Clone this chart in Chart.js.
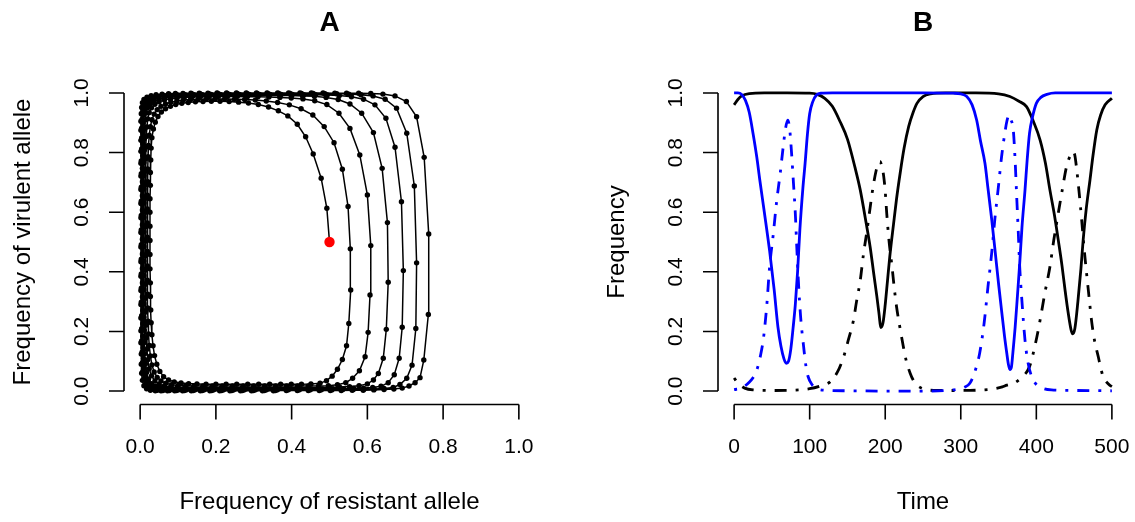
<!DOCTYPE html>
<html lang="en">
<head>
<meta charset="UTF-8">
<title>Resistant and virulent allele cycles</title>
<script src="https://cdn.jsdelivr.net/npm/chart.js@4.4.1/dist/chart.umd.min.js"></script>
<style>
  body { margin: 0; background: #fff; }
  .wrap { position: relative; width: 1135px; height: 522px; }
  canvas { position: absolute; top: 0; }
  #phase { left: 0; }
  #series { left: 567px; }
</style>
</head>
<body>
<div class="wrap">
  <canvas id="phase" width="567" height="522"></canvas>
  <canvas id="series" width="568" height="522"></canvas>
</div>
<script>
// ---- panel A: trajectory (resistant freq, virulent freq), one turn per array ----
const startPoint = [0.5, 0.5];
const turn0 = [[0.500,0.500],[0.493,0.613],[0.478,0.714],[0.457,0.795],[0.437,0.853],[0.415,0.895],[0.390,0.923],[0.365,0.940],[0.339,0.953],[0.312,0.961],[0.286,0.966],[0.260,0.969],[0.235,0.971],[0.211,0.972],[0.188,0.972],[0.166,0.971],[0.146,0.970],[0.127,0.968],[0.110,0.965],[0.094,0.961],[0.080,0.955],[0.067,0.947],[0.056,0.936],[0.047,0.921],[0.040,0.902],[0.035,0.879],[0.031,0.850],[0.029,0.815],[0.028,0.775],[0.027,0.733],[0.027,0.690],[0.026,0.645],[0.026,0.600],[0.026,0.553],[0.026,0.505],[0.026,0.458],[0.026,0.410],[0.027,0.363],[0.027,0.317],[0.028,0.272],[0.029,0.229],[0.031,0.189],[0.034,0.152],[0.038,0.119],[0.044,0.090],[0.052,0.066],[0.062,0.048],[0.075,0.037],[0.090,0.031],[0.108,0.027],[0.128,0.025],[0.150,0.024],[0.174,0.023],[0.200,0.023],[0.227,0.023],[0.255,0.023],[0.284,0.023],[0.313,0.023],[0.342,0.023],[0.371,0.023],[0.399,0.023],[0.426,0.023],[0.451,0.024]];
const turn1 = [[0.475,0.026],[0.492,0.035],[0.507,0.050],[0.521,0.073],[0.534,0.106],[0.545,0.152],[0.551,0.227],[0.556,0.339],[0.555,0.477],[0.549,0.619],[0.534,0.744],[0.512,0.833],[0.486,0.887],[0.456,0.926],[0.425,0.947],[0.394,0.960],[0.363,0.968],[0.333,0.973],[0.304,0.976],[0.276,0.978],[0.249,0.979],[0.223,0.980],[0.198,0.980],[0.175,0.980],[0.153,0.979],[0.133,0.978],[0.114,0.976],[0.097,0.973],[0.081,0.969],[0.067,0.963],[0.055,0.955],[0.045,0.944],[0.037,0.929],[0.031,0.910],[0.027,0.887],[0.024,0.858],[0.022,0.824],[0.021,0.786],[0.020,0.745],[0.020,0.702],[0.019,0.657],[0.019,0.611],[0.019,0.564],[0.019,0.516],[0.019,0.468],[0.019,0.420],[0.019,0.372],[0.020,0.325],[0.020,0.279],[0.021,0.234],[0.022,0.192],[0.024,0.153],[0.027,0.118],[0.031,0.088],[0.037,0.064],[0.045,0.046],[0.055,0.034],[0.068,0.026],[0.083,0.021],[0.100,0.019],[0.120,0.018],[0.142,0.017],[0.166,0.017],[0.191,0.017],[0.217,0.017],[0.244,0.017],[0.272,0.017],[0.300,0.017],[0.329,0.017],[0.358,0.017],[0.387,0.017],[0.416,0.017],[0.444,0.017],[0.471,0.017],[0.497,0.018],[0.521,0.021]];
const turn2 = [[0.543,0.028],[0.561,0.043],[0.579,0.068],[0.594,0.115],[0.602,0.197],[0.607,0.322],[0.609,0.488],[0.600,0.658],[0.580,0.792],[0.554,0.881],[0.525,0.932],[0.493,0.961],[0.461,0.974],[0.430,0.980],[0.399,0.983],[0.369,0.985],[0.340,0.986],[0.311,0.987],[0.283,0.987],[0.256,0.988],[0.230,0.988],[0.205,0.988],[0.181,0.987],[0.158,0.987],[0.136,0.986],[0.116,0.985],[0.097,0.983],[0.080,0.980],[0.064,0.976],[0.050,0.970],[0.039,0.962],[0.030,0.950],[0.024,0.934],[0.020,0.913],[0.018,0.886],[0.016,0.854],[0.015,0.818],[0.015,0.779],[0.014,0.737],[0.014,0.693],[0.014,0.647],[0.014,0.600],[0.014,0.552],[0.014,0.503],[0.014,0.454],[0.014,0.406],[0.014,0.358],[0.014,0.311],[0.015,0.265],[0.015,0.221],[0.016,0.179],[0.018,0.140],[0.020,0.105],[0.024,0.075],[0.030,0.051],[0.039,0.034],[0.050,0.023],[0.064,0.017],[0.080,0.014],[0.098,0.012],[0.118,0.012],[0.140,0.011],[0.164,0.011],[0.189,0.011],[0.215,0.011],[0.242,0.011],[0.270,0.011],[0.299,0.011],[0.328,0.011],[0.357,0.011],[0.386,0.011],[0.415,0.011],[0.444,0.011],[0.472,0.011],[0.500,0.012],[0.527,0.013],[0.553,0.015],[0.578,0.018]];
const turn3 = [[0.600,0.024],[0.616,0.037],[0.629,0.059],[0.642,0.110],[0.650,0.207],[0.655,0.365],[0.653,0.565],[0.639,0.747],[0.616,0.867],[0.585,0.932],[0.554,0.963],[0.523,0.978],[0.491,0.985],[0.460,0.989],[0.429,0.990],[0.399,0.991],[0.369,0.991],[0.340,0.992],[0.312,0.992],[0.285,0.992],[0.259,0.992],[0.233,0.992],[0.208,0.991],[0.184,0.991],[0.161,0.991],[0.139,0.990],[0.118,0.989],[0.099,0.988],[0.081,0.986],[0.065,0.983],[0.050,0.979],[0.037,0.973],[0.027,0.964],[0.020,0.951],[0.016,0.933],[0.013,0.909],[0.012,0.880],[0.011,0.846],[0.011,0.808],[0.010,0.767],[0.010,0.723],[0.010,0.678],[0.010,0.631],[0.010,0.583],[0.010,0.534],[0.010,0.485],[0.010,0.436],[0.010,0.388],[0.010,0.340],[0.010,0.293],[0.010,0.248],[0.011,0.204],[0.011,0.163],[0.012,0.125],[0.014,0.091],[0.017,0.062],[0.022,0.040],[0.030,0.025],[0.040,0.016],[0.053,0.011],[0.068,0.009],[0.085,0.008],[0.104,0.007],[0.125,0.007],[0.148,0.007],[0.172,0.007],[0.197,0.007],[0.223,0.007],[0.250,0.007],[0.278,0.007],[0.307,0.007],[0.336,0.007],[0.365,0.007],[0.394,0.007],[0.423,0.007],[0.452,0.007],[0.481,0.007],[0.509,0.008],[0.537,0.008],[0.564,0.009],[0.590,0.010],[0.614,0.012],[0.636,0.016]];
const turn4 = [[0.655,0.028],[0.671,0.055],[0.684,0.110],[0.692,0.214],[0.695,0.404],[0.690,0.635],[0.673,0.818],[0.649,0.915],[0.620,0.960],[0.590,0.979],[0.558,0.987],[0.526,0.991],[0.494,0.993],[0.463,0.994],[0.432,0.994],[0.402,0.995],[0.372,0.995],[0.343,0.995],[0.315,0.995],[0.288,0.995],[0.262,0.995],[0.236,0.995],[0.211,0.995],[0.187,0.995],[0.164,0.994],[0.142,0.994],[0.121,0.993],[0.101,0.992],[0.083,0.991],[0.066,0.989],[0.050,0.986],[0.036,0.981],[0.025,0.974],[0.017,0.963],[0.012,0.947],[0.009,0.925],[0.008,0.898],[0.007,0.866],[0.007,0.830],[0.007,0.790],[0.006,0.747],[0.006,0.702],[0.006,0.655],[0.006,0.607],[0.006,0.558],[0.006,0.509],[0.006,0.460],[0.006,0.411],[0.006,0.363],[0.006,0.316],[0.007,0.270],[0.007,0.226],[0.007,0.184],[0.008,0.145],[0.009,0.109],[0.011,0.077],[0.014,0.051],[0.019,0.031],[0.027,0.018],[0.037,0.011],[0.049,0.007],[0.064,0.005],[0.081,0.005],[0.100,0.004],[0.121,0.004],[0.144,0.004],[0.168,0.004],[0.193,0.004],[0.219,0.004],[0.246,0.004],[0.274,0.004],[0.303,0.004],[0.332,0.004],[0.361,0.004],[0.390,0.004],[0.419,0.004],[0.448,0.004],[0.477,0.004],[0.506,0.004],[0.535,0.005],[0.563,0.005],[0.591,0.006],[0.618,0.007],[0.644,0.009],[0.668,0.012]];
const turn5 = [[0.686,0.022],[0.704,0.043],[0.718,0.087],[0.728,0.210],[0.730,0.430],[0.724,0.688],[0.704,0.865],[0.677,0.949],[0.647,0.979],[0.615,0.990],[0.583,0.994],[0.551,0.996],[0.519,0.997],[0.488,0.997],[0.457,0.998],[0.426,0.998],[0.396,0.998],[0.366,0.998],[0.337,0.998],[0.309,0.998],[0.282,0.998],[0.256,0.998],[0.230,0.998],[0.205,0.998],[0.181,0.997],[0.158,0.997],[0.136,0.997],[0.115,0.996],[0.095,0.995],[0.077,0.994],[0.060,0.992],[0.044,0.989],[0.031,0.985],[0.020,0.978],[0.013,0.968],[0.008,0.954],[0.006,0.935],[0.005,0.911],[0.004,0.882],[0.004,0.849],[0.004,0.812],[0.003,0.772],[0.003,0.729],[0.003,0.684],[0.003,0.637],[0.003,0.589],[0.003,0.540],[0.003,0.491],[0.003,0.442],[0.003,0.393],[0.003,0.345],[0.003,0.298],[0.004,0.253],[0.004,0.209],[0.004,0.168],[0.005,0.130],[0.006,0.095],[0.007,0.065],[0.010,0.041],[0.015,0.023],[0.022,0.012],[0.032,0.006],[0.045,0.003],[0.060,0.002],[0.077,0.002],[0.096,0.002],[0.117,0.002],[0.140,0.002],[0.164,0.002],[0.189,0.002],[0.215,0.002],[0.242,0.002],[0.270,0.002],[0.299,0.002],[0.328,0.002],[0.357,0.002],[0.386,0.002],[0.415,0.002],[0.444,0.002],[0.473,0.002],[0.502,0.002],[0.531,0.002],[0.560,0.003],[0.589,0.003],[0.617,0.004],[0.644,0.005],[0.670,0.007],[0.692,0.010]];
const turn6 = [[0.710,0.017],[0.726,0.028],[0.739,0.045],[0.749,0.104],[0.761,0.257],[0.762,0.527],[0.750,0.784],[0.730,0.920],[0.703,0.971],[0.673,0.990],[0.641,0.996],[0.609,0.998],[0.577,0.999],[0.545,0.999],[0.514,0.999],[0.483,1.000],[0.452,1.000],[0.422,1.000],[0.392,1.000],[0.363,1.000],[0.335,1.000],[0.307,1.000],[0.280,1.000],[0.254,1.000],[0.228,1.000],[0.203,1.000],[0.179,0.999],[0.156,0.999],[0.134,0.999],[0.113,0.998],[0.093,0.998],[0.075,0.997],[0.058,0.996],[0.042,0.994],[0.029,0.991],[0.018,0.986],[0.010,0.978],[0.006,0.967],[0.004,0.951],[0.003,0.930],[0.002,0.905],[0.002,0.875],[0.002,0.841],[0.002,0.804],[0.002,0.764],[0.002,0.721],[0.002,0.676],[0.002,0.629],[0.002,0.581],[0.002,0.532],[0.002,0.483],[0.002,0.434],[0.002,0.385],[0.002,0.337],[0.002,0.290],[0.002,0.245],[0.002,0.202],[0.002,0.162],[0.003,0.124],[0.003,0.090],[0.004,0.060],[0.006,0.036],[0.010,0.018],[0.017,0.008],[0.027,0.003],[0.040,0.001],[0.055,0.001],[0.072,0.001],[0.091,0.001],[0.112,0.001],[0.135,0.001],[0.159,0.001],[0.184,0.001],[0.210,0.001],[0.237,0.001],[0.265,0.001],[0.294,0.001],[0.323,0.001],[0.352,0.001]];

// ---- panel B: time series ----
const tBlack = [0,5,10,20,40,70,100,110,120,130,140,150,160,167,175,180,185,189,192,194,197,200,203,206,211,215,220,225,231,237,242,250,260,280,320,350,365,377,387,396,405,412,418,424,429,434,438,442,446,448,451,455,459,462,466,471,475,480,485,491,500];
const yBlack = [0.960,0.978,0.990,0.998,1.000,1.000,0.999,0.995,0.982,0.955,0.905,0.845,0.750,0.674,0.560,0.484,0.390,0.316,0.255,0.213,0.228,0.290,0.370,0.450,0.560,0.645,0.735,0.815,0.887,0.935,0.965,0.988,0.997,1.000,1.000,0.997,0.988,0.972,0.954,0.905,0.842,0.765,0.674,0.590,0.507,0.420,0.339,0.265,0.205,0.192,0.210,0.300,0.410,0.507,0.610,0.708,0.790,0.876,0.925,0.960,0.982];
const tBlackDD = [0,4,8,14,25,50,80,100,115,127,137,145,151,158,162,167,171,176,180,184,188,191,193,195.5,198,200,202,205,209,212,215,220,224,228,233,237,242,250,270,300,330,345,355,361,370,380,391,398,405,411,418,423,429,434,440,445,449,451,453,456.5,460,463,466.5,470,473,477,482,485,488.5,493,497,500];
const yBlackDD = [0.044,0.030,0.020,0.010,0.004,0.002,0.003,0.008,0.018,0.031,0.065,0.115,0.170,0.238,0.300,0.372,0.455,0.540,0.615,0.686,0.740,0.765,0.770,0.755,0.720,0.670,0.596,0.505,0.417,0.345,0.283,0.205,0.149,0.100,0.060,0.037,0.020,0.008,0.002,0.002,0.004,0.008,0.014,0.020,0.026,0.045,0.082,0.150,0.238,0.325,0.417,0.505,0.596,0.670,0.753,0.790,0.803,0.790,0.753,0.670,0.574,0.485,0.395,0.310,0.238,0.170,0.115,0.080,0.048,0.030,0.020,0.015];
const tBlue = [0,5,10,15,20,25,30,34,40,47,53,58,62,66,69,72,75,78,81,84,87,91,94,97,100,104,109,115,130,250,290,300,308,315,321,326,332,336,341,345,350,354,358,361,363,365,367,369,372,375,378,381,385,388,391,395,400,406,414,425,500];
const yBlue = [1.000,1.000,0.995,0.975,0.935,0.865,0.785,0.708,0.600,0.470,0.340,0.215,0.150,0.108,0.093,0.100,0.140,0.210,0.290,0.400,0.540,0.680,0.765,0.860,0.930,0.970,0.993,0.999,1.000,1.000,0.999,0.997,0.988,0.960,0.909,0.840,0.764,0.680,0.574,0.480,0.360,0.270,0.182,0.125,0.090,0.072,0.080,0.130,0.215,0.320,0.428,0.550,0.674,0.780,0.865,0.920,0.965,0.985,0.995,1.000,1.000];
const tBlueDD = [0,10,20,25,30,35,39,43,47,52,56,61,65,68,71,73.5,76,78.5,81,83,85,88,92,95,98,103,109,120,150,200,250,280,295,305,312,318,325,331,336,341,345,350,354,358,361,364,366.5,369.5,372,374,376,378,381,385,389,394,400,409,420,450,500];
const yBlueDD = [0.005,0.010,0.030,0.045,0.070,0.120,0.180,0.280,0.417,0.530,0.630,0.730,0.820,0.880,0.909,0.880,0.800,0.700,0.596,0.480,0.372,0.250,0.149,0.085,0.048,0.022,0.009,0.003,0.001,0.000,0.000,0.002,0.006,0.013,0.026,0.060,0.127,0.230,0.350,0.465,0.574,0.690,0.786,0.860,0.905,0.926,0.910,0.876,0.770,0.652,0.540,0.417,0.300,0.171,0.095,0.048,0.022,0.009,0.004,0.002,0.001];

// ---- axes ----
const freqTicks = [0, 0.2, 0.4, 0.6, 0.8, 1];
const freqLabels = ['0.0', '0.2', '0.4', '0.6', '0.8', '1.0'];
const timeTicks = [0, 100, 200, 300, 400, 500];
const timeLabels = ['0', '100', '200', '300', '400', '500'];

const FONT = '"Liberation Sans", Arial, sans-serif';

// R-style axes: lines only span first..last tick, ticks point outward, y labels rotated
const rAxes = {
  id: 'rAxes',
  afterDraw(chart, args, o) {
    const { ctx, chartArea: a } = chart;
    const px = v => chart.scales.x.getPixelForValue(v);
    const py = v => chart.scales.y.getPixelForValue(v);
    const xb = a.bottom + 1.5, yl = a.left - 1;
    ctx.save();
    ctx.strokeStyle = '#000';
    ctx.fillStyle = '#000';
    ctx.lineWidth = 1.6;
    ctx.beginPath();
    ctx.moveTo(px(o.xTicks[0]), xb);
    ctx.lineTo(px(o.xTicks[o.xTicks.length - 1]), xb);
    o.xTicks.forEach(v => { ctx.moveTo(px(v), xb); ctx.lineTo(px(v), xb + 15); });
    ctx.moveTo(yl, py(o.yTicks[0]));
    ctx.lineTo(yl, py(o.yTicks[o.yTicks.length - 1]));
    o.yTicks.forEach(v => { ctx.moveTo(yl, py(v)); ctx.lineTo(yl - 15, py(v)); });
    ctx.stroke();

    ctx.textAlign = 'center';
    ctx.textBaseline = 'alphabetic';
    ctx.font = '21px ' + FONT;
    o.xTicks.forEach((v, i) => ctx.fillText(o.xLabels[i], px(v), 453));
    o.yTicks.forEach((v, i) => {
      ctx.save();
      ctx.translate(a.left - 37, py(v));
      ctx.rotate(-Math.PI / 2);
      ctx.fillText(o.yLabels[i], 0, 0);
      ctx.restore();
    });

    ctx.font = '24px ' + FONT;
    ctx.fillText(o.xTitle, (a.left + a.right) / 2, 509);
    ctx.save();
    ctx.translate(a.left - 95, (a.top + a.bottom) / 2);
    ctx.rotate(-Math.PI / 2);
    ctx.fillText(o.yTitle, 0, 0);
    ctx.restore();

    ctx.font = 'bold 28px ' + FONT;
    ctx.fillText(o.title, (a.left + a.right) / 2, 31);
    ctx.restore();
  }
};

function baseOptions(xmin, xmax, pad, axes) {
  return {
    responsive: false,
    animation: false,
    events: [],
    layout: { padding: pad },
    scales: {
      x: { type: 'linear', min: xmin, max: xmax, display: false },
      y: { type: 'linear', min: -0.04, max: 1.04, display: false }
    },
    plugins: { legend: { display: false }, tooltip: { enabled: false }, rAxes: axes }
  };
}

const path = [turn0, turn1, turn2, turn3, turn4, turn5, turn6].flat().map(p => ({ x: p[0], y: p[1] }));

new Chart(document.getElementById('phase'), {
  type: 'scatter',
  data: {
    datasets: [
      {
        data: [{ x: startPoint[0], y: startPoint[1] }],
        pointRadius: 5.2, pointBackgroundColor: '#ff0000', pointBorderWidth: 0
      },
      {
        data: path,
        showLine: true,
        borderColor: '#000', borderWidth: 1.5,
        pointRadius: 2.7, pointBackgroundColor: '#000', pointBorderWidth: 0
      }
    ]
  },
  options: baseOptions(-0.04, 1.04, { left: 125, right: 33, top: 81, bottom: 119 }, {
    xTicks: freqTicks, xLabels: freqLabels, yTicks: freqTicks, yLabels: freqLabels,
    xTitle: 'Frequency of resistant allele', yTitle: 'Frequency of virulent allele', title: 'A'
  }),
  plugins: [rAxes]
});

function series(ts, ys, color, dashed) {
  return {
    data: ts.map((t, i) => ({ x: t, y: ys[i] })),
    borderColor: color,
    borderWidth: 2.8,
    borderDash: dashed ? [3, 9, 12, 9] : [],
    cubicInterpolationMode: 'monotone',
    pointRadius: 0,
    fill: false
  };
}

new Chart(document.getElementById('series'), {
  type: 'line',
  data: {
    datasets: [
      series(tBlueDD, yBlueDD, '#0000ff', true),
      series(tBlue, yBlue, '#0000ff', false),
      series(tBlackDD, yBlackDD, '#000', true),
      series(tBlack, yBlack, '#000', false)
    ]
  },
  options: baseOptions(-20, 520, { left: 152, right: 8, top: 81, bottom: 119 }, {
    xTicks: timeTicks, xLabels: timeLabels, yTicks: freqTicks, yLabels: freqLabels,
    xTitle: 'Time', yTitle: 'Frequency', title: 'B'
  }),
  plugins: [rAxes]
});
</script>
</body>
</html>
